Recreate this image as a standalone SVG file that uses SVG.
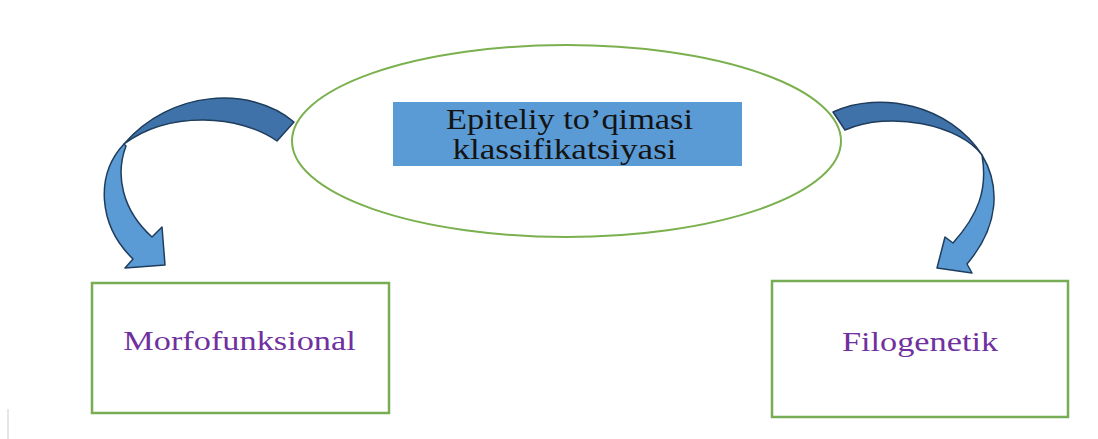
<svg xmlns="http://www.w3.org/2000/svg" width="1098" height="439" viewBox="0 0 1098 439">
  <style>
    .box { fill: #ffffff; stroke: #77ad55; stroke-width: 2.5; }
    .title { font-family: "Liberation Serif", "Times New Roman", serif; font-size: 30px; fill: #141414; text-anchor: middle; }
    .label { font-family: "Liberation Serif", "Times New Roman", serif; font-size: 27px; fill: #7030a0; text-anchor: middle; }
    .back { fill: #3f72a9; stroke: #1f3d5c; stroke-width: 1.5; stroke-linejoin: round; }
    .front { fill: #5b9bd5; stroke: #1f3d5c; stroke-width: 1.5; stroke-linejoin: round; }
  </style>
  <rect x="0" y="0" width="1098" height="439" fill="#ffffff"/>
  <line x1="8" y1="409" x2="8" y2="439" stroke="#cccccc" stroke-width="1"/>

  <g id="connectors">
    <g id="arrow-left">
      <path class="back" d="M294,122 C250,85 170,90 124,144 C170,110 240,115 277,141 Z"/>
      <path class="front" d="M124,144 C95,175 98,225 133,259 L125,268 L165,265 L162,227 L152,237 C122,210 115,175 126,146 Z"/>
    </g>
    <g id="arrow-right">
      <path class="back" d="M833,112 C880,90 950,105 982,155 C960,125 890,110 845,130 Z"/>
      <path class="front" d="M982,155 C1000,185 1000,225 967,264 L972,273 L937,268 L945,237 L953,243 C978,215 988,190 982,155 Z"/>
    </g>
  </g>

  <g id="center">
    <ellipse cx="566.5" cy="141" rx="274.5" ry="96" fill="#ffffff" stroke="#7ab04e" stroke-width="2"/>
    <rect x="393" y="102" width="349" height="64" fill="#5b9bd5"/>
    <text class="title" transform="translate(569.5,129) scale(1.145,1)">Epiteliy to’qimasi</text>
    <text class="title" transform="translate(564.5,159) scale(1.17,1)">klassifikatsiyasi</text>
  </g>

  <g id="morfofunksional">
    <rect class="box" x="92" y="283" width="297" height="130"/>
    <text class="label" transform="translate(239.5,350) scale(1.27,1)">Morfofunksional</text>
  </g>

  <g id="filogenetik">
    <rect class="box" x="772" y="281" width="296" height="136"/>
    <text class="label" transform="translate(920,351) scale(1.27,1)">Filogenetik</text>
  </g>
</svg>
